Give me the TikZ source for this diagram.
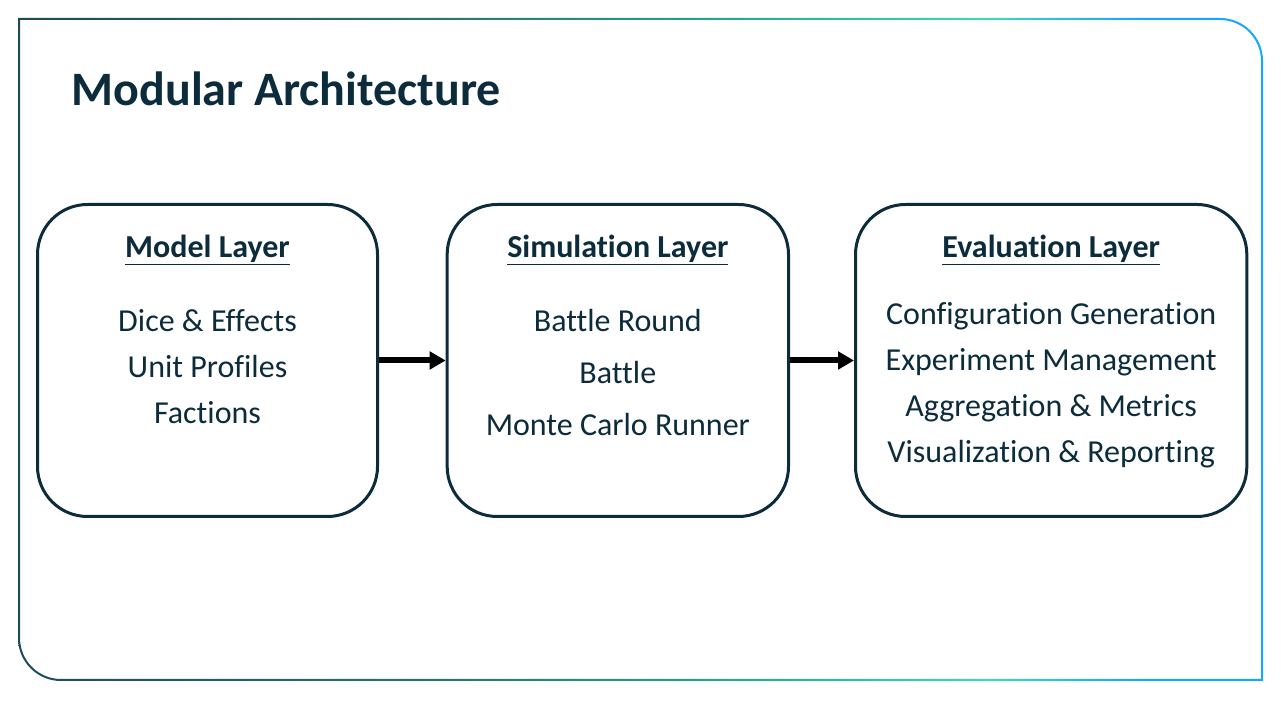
\documentclass[tikz,border=0pt]{standalone}
\usepackage{fontspec}
\setmainfont[Ligatures=NoCommon]{Carlito}
\usetikzlibrary{arrows.meta, positioning}
\definecolor{ink}{HTML}{0C2C3C}
\definecolor{frameA}{HTML}{1E4A5C}
\definecolor{frameB}{HTML}{2A7570}
\definecolor{frameC}{HTML}{22A08C}
\definecolor{frameD}{HTML}{3EDBB3}
\definecolor{frameE}{HTML}{17A6FF}
\pgfdeclarehorizontalshading{frameshade}{100bp}{color(0bp)=(frameA); color(25bp)=(frameA); color(42bp)=(frameB); color(52bp)=(frameC); color(64bp)=(frameD); color(70bp)=(frameE); color(100bp)=(frameE)}
\tikzset{
  layer/.style={rectangle, draw=ink, line width=2.25pt, fill=white, rounded corners=37.5pt, minimum height=234pt},
  head/.style={text=ink, font=\fontsize{24}{28}\selectfont\bfseries},
  items/.style={text=ink, align=center},
  flow/.style={-{Triangle[length=12pt, width=13pt]}, line width=4.5pt, black},
}

\begin{document}
\begin{tikzpicture}[x=0.75pt, y=0.75pt]
  \useasboundingbox (0,0) rectangle (1281,720);
  % outer frame
  \shade[shading=frameshade, even odd rule]
    (18,702) -- (1220,702) arc[start angle=90, end angle=0, radius=43] -- (1263,39) -- (61,39) arc[start angle=270, end angle=180, radius=43] -- cycle
    (20,700) -- (1220,700) arc[start angle=90, end angle=0, radius=41] -- (1261,41) -- (61,41) arc[start angle=270, end angle=180, radius=41] -- cycle;
  \node[anchor=base west, text=ink, font=\fontsize{36}{40}\selectfont\bfseries] (title) at (67,614) {Modular Architecture};

  % layers
  \node[layer, minimum width=255pt] (model) at (207.5,359.5) {};
  \node[layer, minimum width=256pt, right=50pt of model] (sim) {};
  \node[layer, minimum width=293.5pt, right=48pt of sim] (eval) {};

  \node[head] (modelhead) at (model.center |- 0,470) {\underline{Model Layer}};
  \node[head] (simhead) at (sim.center |- 0,470) {\underline{Simulation Layer}};
  \node[head] (evalhead) at (eval.center |- 0,470) {\underline{Evaluation Layer}};

  \node[items, font=\fontsize{24}{34.5}\selectfont] (modelitems) at (model.center |- 0,353) {Dice \& Effects\\Unit Profiles\\Factions};
  \node[items, font=\fontsize{24}{39}\selectfont] (simitems) at (sim.center |- 0,347) {Battle Round\\Battle\\Monte Carlo Runner};
  \node[items, font=\fontsize{24}{34.5}\selectfont] (evalitems) at (eval.center |- 0,335) {Configuration Generation\\Experiment Management\\Aggregation \& Metrics\\Visualization \& Reporting};

  \draw[flow] (model) -- (sim);
  \draw[flow] (sim) -- (eval);
\end{tikzpicture}
\end{document}
